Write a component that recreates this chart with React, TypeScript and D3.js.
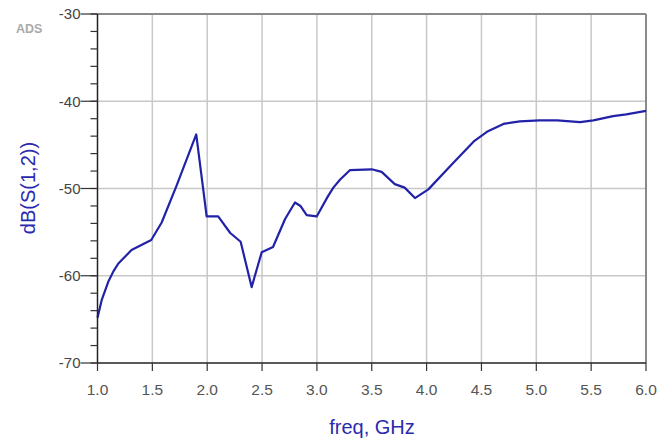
import React from "react";
import * as d3 from "d3";

const freqGHz = [1.0, 1.038, 1.098, 1.145, 1.19, 1.31, 1.49, 1.585, 1.72, 1.9, 1.995, 2.1, 2.21, 2.305, 2.405, 2.497, 2.6, 2.71, 2.8, 2.85, 2.907, 2.998, 3.1, 3.15, 3.21, 3.3, 3.5, 3.59, 3.71, 3.8, 3.894, 4.016, 4.24, 4.43, 4.55, 4.7, 4.85, 5.03, 5.19, 5.4, 5.52, 5.7, 5.82, 6.0];
const dbS12 = [-64.8, -62.8, -60.7, -59.5, -58.6, -57.05, -55.9, -53.9, -49.7, -43.8, -53.2, -53.2, -55.1, -56.1, -61.3, -57.3, -56.7, -53.5, -51.6, -52.0, -53.05, -53.2, -50.9, -49.9, -49.0, -47.9, -47.8, -48.1, -49.5, -49.9, -51.1, -50.1, -47.1, -44.6, -43.5, -42.6, -42.3, -42.2, -42.2, -42.4, -42.2, -41.7, -41.5, -41.1];
const xTicks = [1.0, 1.5, 2.0, 2.5, 3.0, 3.5, 4.0, 4.5, 5.0, 5.5, 6.0];
const yTicks = [-30, -40, -50, -60, -70];
const yMinorTicks = d3.range(-70, -29, 2);

export default function App() {
  const W = 666, H = 438;
  const L = 97.5, R = 646, T = 14, B = 363;
  const x = d3.scaleLinear().domain([1, 6]).range([L, R]);
  const y = d3.scaleLinear().domain([-70, -30]).range([B, T]);
  const pts: [number, number][] = freqGHz.map((f, i) => [f, dbS12[i]]);
  const line = d3.line<[number, number]>().x(d => x(d[0])).y(d => y(d[1])).curve(d3.curveLinear);
  const font = "'Liberation Sans', Arial, sans-serif";
  return (
    <svg width={W} height={H} style={{ position: "absolute", left: 0, top: 0, background: "#fff" }} fontFamily={font}>
      {xTicks.slice(1, -1).map(t => (
        <line key={"gx" + t} x1={x(t)} x2={x(t)} y1={T} y2={B} stroke="#c8c8c8" strokeWidth={1.5} />
      ))}
      {yTicks.slice(1, -1).map(t => (
        <line key={"gy" + t} x1={L} x2={R} y1={y(t)} y2={y(t)} stroke="#c8c8c8" strokeWidth={1.5} />
      ))}
      <line x1={L} x2={R} y1={T} y2={T} stroke="#8a8a8a" strokeWidth={2} />
      <line x1={R} x2={R} y1={T} y2={B} stroke="#8a8a8a" strokeWidth={2} />
      <path d={line(pts) || ""} fill="none" stroke="#2222a8" strokeWidth={2.2} strokeLinejoin="round" />
      <line x1={L} x2={L} y1={T} y2={B} stroke="#222" strokeWidth={1.5} />
      <line x1={L} x2={R} y1={B} y2={B} stroke="#222" strokeWidth={1.5} />
      {yMinorTicks.map(t => (
        <line key={"my" + t} x1={L - 7} x2={L} y1={y(t)} y2={y(t)} stroke="#333" strokeWidth={1.2} />
      ))}
      {yTicks.map(t => (
        <g key={"ty" + t}>
          <line x1={L - 17} x2={L} y1={y(t)} y2={y(t)} stroke="#333" strokeWidth={1.2} />
          <text x={L - 17} y={y(t)} dy="0.35em" textAnchor="end" fontSize={15} fill="#444">{t}</text>
        </g>
      ))}
      {xTicks.map(t => (
        <g key={"tx" + t}>
          <line x1={x(t)} x2={x(t)} y1={B} y2={B + 8} stroke="#333" strokeWidth={1.2} />
          <text x={x(t)} y={B + 32} textAnchor="middle" fontSize={15.5} fill="#555">{t.toFixed(1)}</text>
        </g>
      ))}
      <text x={16} y={33} fontSize={12.5} fontWeight="bold" fill="#aaa">ADS</text>
      <text x={372} y={434} textAnchor="middle" fontSize={20} fill="#2a2ab0">freq, GHz</text>
      <text transform={`translate(35,188) rotate(-90)`} textAnchor="middle" fontSize={20} fill="#2a2ab0">dB(S(1,2))</text>
    </svg>
  );
}
